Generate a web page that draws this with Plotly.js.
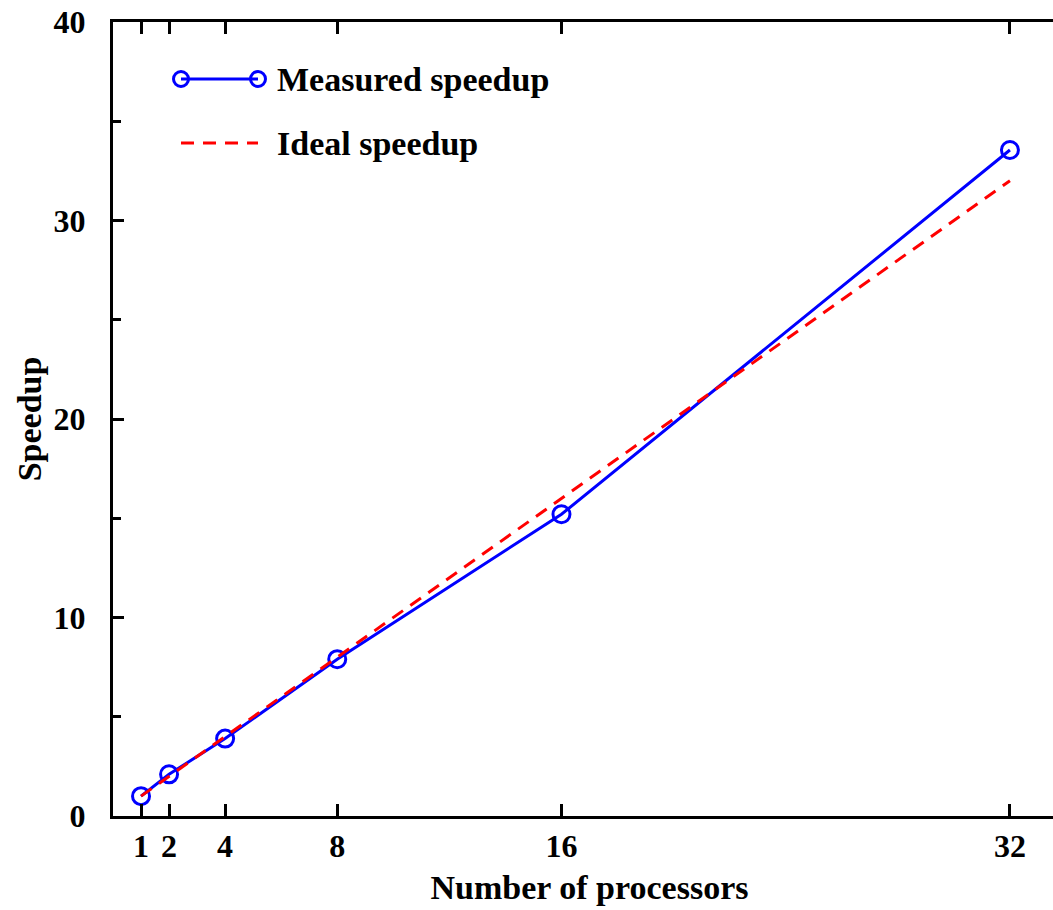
<!DOCTYPE html>
<html>
<head>
<meta charset="utf-8">
<script src="https://cdn.plot.ly/plotly-3.0.1.min.js"></script>
<style>
  html, body { margin: 0; padding: 0; overflow: hidden; background: #fff; }
  #chart { width: 1100px; height: 910px; }
</style>
</head>
<body>
<div id="chart"></div>
<script>
// Data
const processors = [1, 2, 4, 8, 16, 32];
const measuredSpeedup = [1.0, 2.1, 3.9, 7.9, 15.2, 33.55];
const idealSpeedup = [1, 2, 4, 8, 16, 32];
const xTickVals = [1, 2, 4, 8, 16, 32];
const xTickText = ['1', '2', '4', '8', '16', '32'];
const yTickVals = [0, 10, 20, 30, 40];
const seriesNames = ['Measured speedup', 'Ideal speedup'];

const FONT = 'Liberation Serif, Times New Roman, serif';
const BLUE = 'rgb(0,0,255)';
const RED = 'rgb(255,0,0)';

// plot area geometry (px) for legend placement helpers
const L = 113, T = 22, W = 1100, H = 910, R = 34, B = 94;
const pw = W - L - R, ph = H - T - B;
const px2x = p => (p - L) / pw;
const py2y = p => (H - B - p) / ph;

const traces = [
  {
    x: processors, y: measuredSpeedup, name: seriesNames[0],
    type: 'scatter', mode: 'lines+markers',
    line: {color: BLUE, width: 3},
    marker: {symbol: 'circle-open', size: 17, color: BLUE, line: {width: 3, color: BLUE}},
    showlegend: false, cliponaxis: false
  },
  {
    x: processors, y: idealSpeedup, name: seriesNames[1],
    type: 'scatter', mode: 'lines',
    line: {color: RED, width: 3, dash: '13px,9px'},
    showlegend: false
  }
];

const legY1 = py2y(79), legY2 = py2y(143);
const legX0 = px2x(181), legX1 = px2x(258), legTX = px2x(275);
const tf = (s) => ({family: FONT, size: s, color: '#000', weight: 'bold'});

const layout = {
  width: W, height: H,
  margin: {l: L, r: R, t: T, b: B, pad: 0},
  paper_bgcolor: '#fff', plot_bgcolor: '#fff',
  font: tf(34),
  xaxis: {
    range: [0, 34],
    tickmode: 'array', tickvals: xTickVals, ticktext: xTickText,
    ticks: 'inside', ticklen: 12, tickwidth: 3, tickcolor: '#000',
    showline: true, linewidth: 3, linecolor: '#000', mirror: 'ticks',
    showgrid: false, zeroline: false,
    ticklabelstandoff: 0,
    tickfont: tf(32),
    title: {text: 'Number of processors', standoff: 12, font: tf(34)}
  },
  yaxis: {
    range: [0, 40],
    tickmode: 'array', tickvals: yTickVals,
    ticks: 'inside', ticklen: 11, tickwidth: 3, tickcolor: '#000',
    minor: {tickmode: 'array', tickvals: [5, 15, 25, 35], ticks: 'inside', ticklen: 8, tickwidth: 3, tickcolor: '#000', showgrid: false},
    showline: true, linewidth: 3, linecolor: '#000', mirror: 'ticks',
    showgrid: false, zeroline: false,
    ticklabelstandoff: 18,
    tickfont: tf(32),
    title: {text: 'Speedup', standoff: 2, font: tf(34)}
  },
  shapes: [
    {type: 'line', xref: 'paper', yref: 'paper', x0: legX0, x1: legX1, y0: legY1, y1: legY1,
     line: {color: BLUE, width: 3}},
    {type: 'circle', xref: 'paper', yref: 'paper', xsizemode: 'pixel', ysizemode: 'pixel',
     xanchor: legX0, yanchor: legY1, x0: -7.5, x1: 7.5, y0: -7.5, y1: 7.5,
     line: {color: BLUE, width: 3}, fillcolor: 'rgba(0,0,0,0)'},
    {type: 'circle', xref: 'paper', yref: 'paper', xsizemode: 'pixel', ysizemode: 'pixel',
     xanchor: legX1, yanchor: legY1, x0: -7.5, x1: 7.5, y0: -7.5, y1: 7.5,
     line: {color: BLUE, width: 3}, fillcolor: 'rgba(0,0,0,0)'},
    {type: 'line', xref: 'paper', yref: 'paper', x0: legX0, x1: legX1, y0: legY2, y1: legY2,
     line: {color: RED, width: 3, dash: '13px,9px'}}
  ],
  annotations: [
    {xref: 'paper', yref: 'paper', x: legTX, y: legY1, xanchor: 'left', yanchor: 'middle',
     text: seriesNames[0], showarrow: false, font: tf(34)},
    {xref: 'paper', yref: 'paper', x: legTX, y: legY2, xanchor: 'left', yanchor: 'middle',
     text: seriesNames[1], showarrow: false, font: tf(34)}
  ]
};

Plotly.newPlot('chart', traces, layout, {displayModeBar: false, staticPlot: true});
</script>
</body>
</html>
